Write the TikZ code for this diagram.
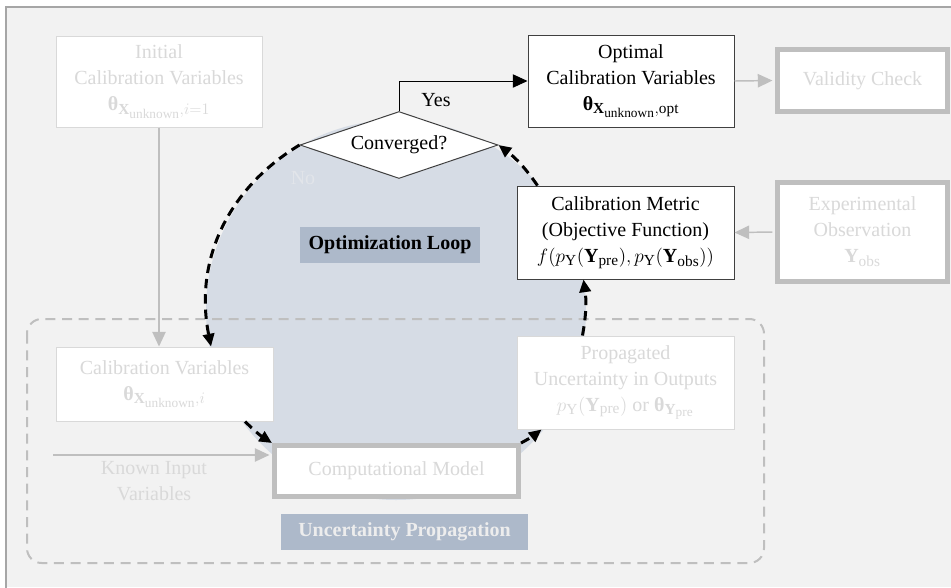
\documentclass[tikz,border=0pt]{standalone}
\usepackage{amsmath}
\usepackage{fontspec}
\setmainfont{Liberation Serif}
\DeclareMathSizes{15}{15}{11.5}{10}
\usetikzlibrary{shapes.geometric,arrows.meta,calc}

\definecolor{bgfill}{HTML}{F2F2F2}
\definecolor{bgline}{HTML}{A6A6A6}
\definecolor{loopfill}{HTML}{D6DCE5}
\definecolor{tagblue}{HTML}{ADB9CA}
\definecolor{boxline}{HTML}{404040}
\definecolor{fadeline}{HTML}{D9D9D9}
\definecolor{fadetext}{HTML}{D9D9D9}
\definecolor{thickgray}{HTML}{BFBFBF}
\definecolor{tagtext}{HTML}{EDEDED}
\definecolor{notext}{HTML}{E2E5EA}

% upright bold symbols taken from the text font
\newcommand{\bth}{\text{\bfseries θ}}
\newcommand{\bY}{\text{\bfseries Y}}
\newcommand{\bX}{\text{\bfseries X}}

\begin{document}
\begin{tikzpicture}[
  x=0.75pt, y=0.75pt,
  font=\fontsize{15}{19.5}\selectfont,
  box/.style={draw=boxline, line width=0.75pt, fill=white, inner sep=0pt, align=center},
  fadedbox/.style={draw=fadeline, line width=0.75pt, fill=white, text=fadetext, inner sep=0pt, align=center},
  thickbox/.style={draw=thickgray, line width=3.75pt, fill=white, text=fadetext, inner sep=0pt, align=center},
  tag/.style={fill=tagblue, inner sep=0pt, font=\fontsize{15}{19.5}\selectfont\bfseries},
  loopflow/.style={draw=black, line width=2.25pt, dash pattern=on 7pt off 4.5pt,
                   -{Triangle[length=9.5pt,width=8.5pt]}},
  feed/.style={draw=thickgray, line width=1.1pt, -{Triangle[length=11pt,width=10pt]}},
  yesflow/.style={draw=black, line width=0.75pt, -{Triangle[length=11pt,width=10pt]}}
]
\useasboundingbox (0,0) rectangle (951,-587);

% page background
\fill[bgfill] (6,-7) rectangle (951,-587);
\draw[bgline, line width=1.1pt] (6,-590) -- (6,-7) -- (955,-7);

% optimization loop disc
\fill[loopfill] (396,-310) circle[radius=190];

% uncertainty propagation frame
\draw[thickgray, line width=1.5pt, dash pattern=on 7.5pt off 5pt, rounded corners=11pt]
  (27,-319) rectangle (764,-563);

% nodes
\node[fadedbox, minimum width=154.5pt, minimum height=68.25pt] (init) at (159,-81.5)
  {Initial\\Calibration Variables\\$\bth_{\bX_{\mathrm{unknown}},i=1}$};
\node[box, minimum width=154.5pt, minimum height=69pt] (opt) at (631,-81)
  {Optimal\\Calibration Variables\\$\bth_{\bX_{\mathrm{unknown}},\mathrm{opt}}$};
\node[thickbox, minimum width=127.5pt, minimum height=46.5pt] (val) at (862.5,-80.5)
  {Validity Check};
\node[diamond, draw=boxline, line width=0.75pt, fill=white, inner sep=0pt, aspect=2.95,
      minimum width=148.5pt, minimum height=50.25pt] (conv) at (399,-145) {Converged?};
\node[box, minimum width=162.75pt, minimum height=69.75pt] (met) at (625.5,-232.5)
  {Calibration Metric\\(Objective Function)\\$f(p_{\mathrm{Y}}(\bY_{\mathrm{pre}}),p_{\mathrm{Y}}(\bY_{\mathrm{obs}}))$};
\node[thickbox, minimum width=127.5pt, minimum height=74.25pt] (exp) at (862.5,-232)
  {Experimental\\Observation\\$\bY_{\mathrm{obs}}$};
\node[tag, minimum width=135pt, minimum height=27pt] (optlbl) at (390,-245) {Optimization Loop};
\node[fadedbox, minimum width=162.75pt, minimum height=55.5pt] (calvar) at (164.5,-384)
  {Calibration Variables\\$\bth_{\bX_{\mathrm{unknown}},i}$};
\node[thickbox, minimum width=183pt, minimum height=38.25pt] (comp) at (396.5,-471)
  {Computational Model};
\node[fadedbox, minimum width=162.75pt, minimum height=69.75pt] (prop) at (625.5,-382.5)
  {Propagated\\Uncertainty in Outputs\\$p_{\mathrm{Y}}(\bY_{\mathrm{pre}})$ or $\bth_{\bY_{\mathrm{pre}}}$};
\node[tag, text=tagtext, minimum width=185.25pt, minimum height=27pt] (uplbl) at (404.5,-532)
  {Uncertainty Propagation};
\node[text=fadetext, align=center, inner sep=0pt] (known) at (154,-481) {Known Input\\Variables};
\node[inner sep=0pt] (yes) at (436,-100) {Yes};
\node[text=notext, inner sep=0pt] (no) at (303,-178) {No};
\coordinate (kin) at (53,-455);

% feeds into the loop
\draw[feed] (init.south) -- (init.south |- calvar.north);
\draw[feed, shorten >=1.9pt] (kin) -- (kin -| comp.west);
\draw[feed, shorten >=1.9pt] (opt.east) -- (val.west);
\draw[feed, shorten <=1.9pt] (exp.west) -- (met.east);

% converged branch
\draw[yesflow] (conv.north) |- (opt.west);

% optimization loop
\draw[loopflow] (conv.west) to[bend right=35] ([xshift=34.9pt]calvar.north);
\draw[loopflow] ([xshift=60.4pt]calvar.south) to[bend right=6] (comp.north west);
\draw[loopflow] (comp.north east) to[bend right=5] ([xshift=18.75pt]prop.south west);
\draw[loopflow] ([xshift=49.5pt]prop.north west) to[bend right=9] ([xshift=50.25pt]met.south west);
\draw[loopflow] ([xshift=15.75pt]met.north west) to[bend right=9] (conv.east);
\end{tikzpicture}
\end{document}
